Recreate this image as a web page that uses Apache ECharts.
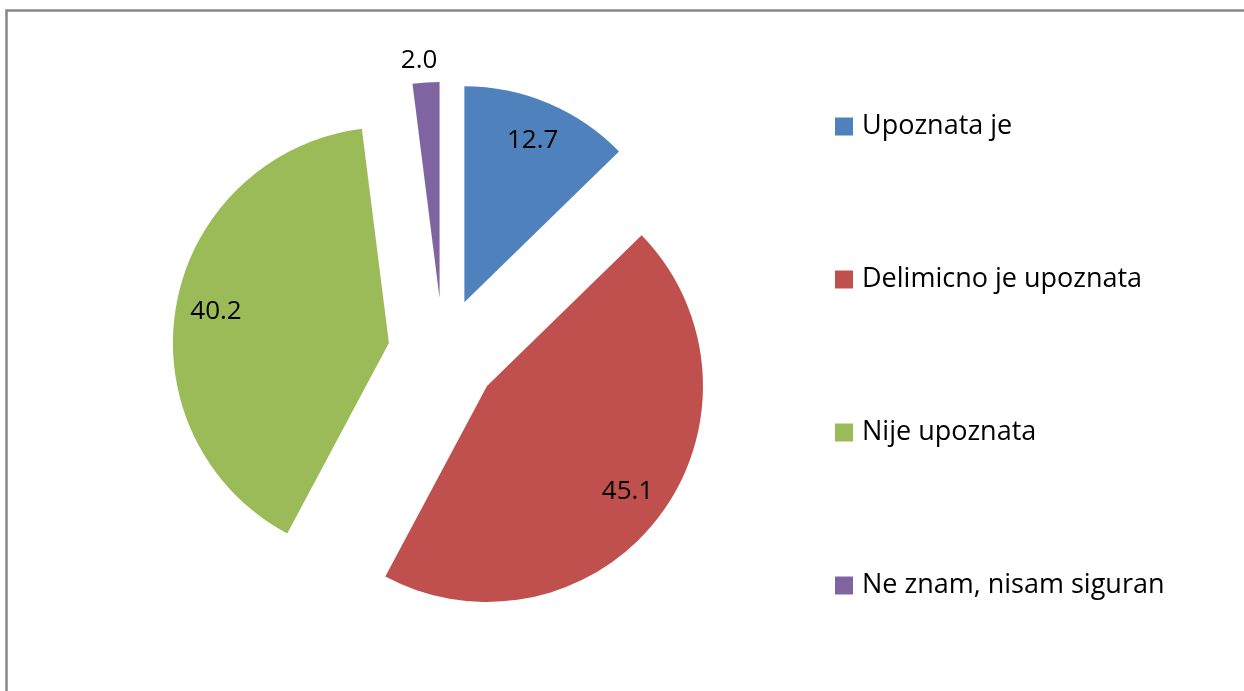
<!DOCTYPE html>
<html>
<head>
<meta charset="utf-8">
<script src="https://cdn.jsdelivr.net/npm/echarts@6/dist/echarts.min.js"></script>
<style>
  html, body { margin: 0; padding: 0; background: #fff; }
  #chart { width: 1244px; height: 691px; }
</style>
</head>
<body>
<div id="chart"></div>
<script>
// podaci
const categories = ['Upoznata je', 'Delimicno je upoznata', 'Nije upoznata', 'Ne znam, nisam siguran']
const values = [12.7, 45.1, 40.2, 2.0]
const colors = ['#4F81BD', '#C0504D', '#9BBB59', '#8064A2']

const chart = echarts.init(document.getElementById('chart'))

const font = '"Open Sans", Lato, sans-serif'
const R = 216
const center = [443, 353]
const explode = 55

// obojeni isjecci
const pieData = categories.map((name, i) => ({
  name: name,
  value: values[i],
  selected: true,
  itemStyle: { color: colors[i] }
}))

// providni prsten samo za oznake (na ~0.8 radijusa, kao u Excelu)
const labelData = categories.map((name, i) => {
  const item = { name: name, value: values[i], selected: true }
  if (values[i] < 5) {
    item.label = { position: 'outside' }
  }
  return item
})

const option = {
  animation: false,
  graphic: [
    {
      type: 'rect',
      shape: { x: 6.5, y: 10.5, width: 1300, height: 720 },
      style: { fill: 'none', stroke: '#868686', lineWidth: 2.5 }
    }
  ],
  legend: {
    orient: 'vertical',
    left: 830,
    top: 108,
    itemWidth: 18,
    itemHeight: 18,
    itemGap: 126,
    icon: 'rect',
    data: categories,
    selectedMode: false,
    textStyle: { fontFamily: font, fontSize: 27, color: '#000', padding: [0, 0, 0, 4] }
  },
  series: [
    {
      type: 'pie',
      center: center,
      radius: [0, R],
      startAngle: 90,
      selectedMode: 'multiple',
      selectedOffset: explode,
      silent: true,
      label: { show: false },
      labelLine: { show: false },
      select: { itemStyle: { borderWidth: 0 } },
      data: pieData
    },
    {
      type: 'pie',
      center: center,
      radius: [R * 0.6, R],
      startAngle: 90,
      selectedMode: 'multiple',
      selectedOffset: explode,
      silent: true,
      itemStyle: { color: 'rgba(0,0,0,0)' },
      select: { itemStyle: { color: 'rgba(0,0,0,0)', borderWidth: 0 } },
      label: {
        show: true,
        position: 'inside',
        color: '#000',
        fontFamily: font,
        fontSize: 26,
        formatter: p => p.value.toFixed(1)
      },
      labelLine: { show: false, length: 10, length2: 0 },
      // mala oznaka iznad isjecka, pomjerena kao u originalu
      labelLayout: p => (values[p.dataIndex] < 5 ? { dx: 17, dy: -12 } : {}),
      data: labelData
    }
  ]
}

chart.setOption(option)
</script>
</body>
</html>
